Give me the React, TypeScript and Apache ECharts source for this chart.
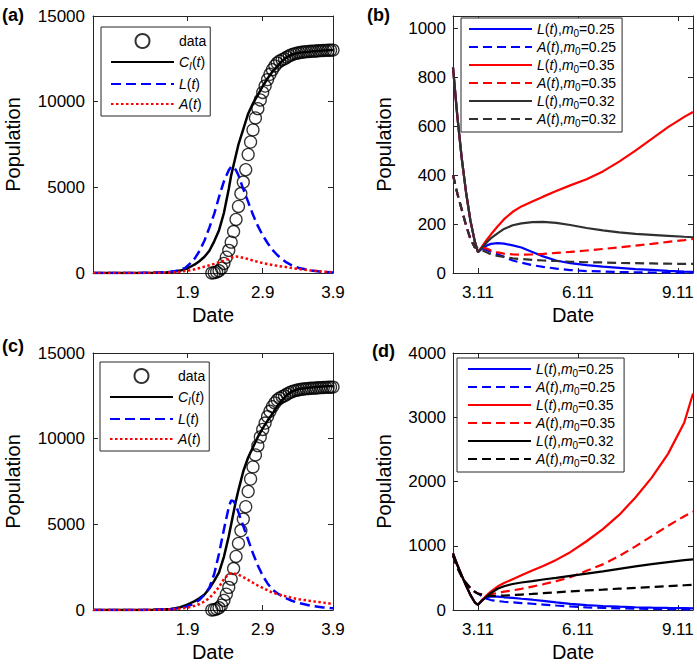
import React, { useEffect, useRef } from 'react';
import * as echarts from 'echarts';

// ---------- Panels (a) and (c): days counted from 1 Dec 2019 ----------
const acTickDays = [39, 70, 99];
const acTickLabels = ['1.9', '2.9', '3.9'];
const acYTicks = [0, 5000, 10000, 15000];

const dataDays = [49, 50, 51, 52, 53, 54, 55, 56, 57, 58, 59, 60, 61, 62, 63, 64, 65, 66, 67, 68, 69, 70, 71, 72, 73, 74, 75, 76, 77, 78, 79, 80, 81, 82, 83, 84, 85, 86, 87, 88, 89, 90, 91, 92, 93, 94, 95, 96, 97, 98, 99];
const dataCases = [5, 21, 65, 127, 281, 558, 923, 1321, 1801, 2420, 3125, 3886, 4638, 5306, 6028, 6916, 7646, 8353, 9049, 9593, 10098, 10540, 10910, 11287, 11598, 11865, 12086, 12251, 12366, 12447, 12503, 12600, 12680, 12740, 12790, 12830, 12860, 12880, 12900, 12920, 12930, 12940, 12950, 12960, 12970, 12980, 12990, 12995, 13000, 13005, 13010];

const modelDays = [0, 10, 20, 25, 30, 32, 34, 36, 38, 40, 42, 44, 46, 48, 50, 52, 54, 56, 57, 58, 59, 60, 62, 64, 66, 68, 70, 72, 74, 76, 78, 80, 82, 85, 90, 95, 99];
const aC = [0, 1, 6, 15, 35, 55, 90, 140, 220, 350, 500, 700, 950, 1300, 1850, 2500, 3500, 4900, 5700, 6300, 6900, 7500, 8400, 9300, 9900, 10400, 10900, 11350, 11750, 12060, 12380, 12600, 12750, 12850, 12930, 12980, 13010];
const aL = [0, 1, 8, 20, 50, 75, 120, 190, 300, 550, 850, 1300, 1900, 2650, 3450, 4450, 5350, 6000, 6200, 6200, 6000, 5700, 4900, 4150, 3400, 2750, 2200, 1750, 1350, 1050, 800, 600, 450, 290, 140, 65, 35];
const aA = [0, 1, 4, 10, 25, 35, 50, 75, 110, 160, 220, 290, 370, 450, 530, 620, 720, 830, 890, 940, 960, 950, 890, 810, 730, 650, 580, 520, 470, 420, 380, 340, 290, 230, 140, 80, 45];
const cC = [0, 1, 6, 15, 40, 60, 100, 160, 260, 380, 520, 700, 900, 1250, 1700, 2200, 3100, 4300, 5000, 5700, 6400, 7000, 8100, 8900, 9500, 10100, 10600, 11050, 11450, 11900, 12250, 12550, 12750, 12900, 12980, 13040, 13080];
const cL = [0, 1, 5, 12, 35, 50, 80, 120, 180, 270, 400, 600, 900, 1300, 2100, 3300, 4700, 6000, 6400, 6350, 6100, 5700, 4900, 4100, 3300, 2600, 2000, 1550, 1200, 980, 800, 660, 540, 400, 250, 150, 100];
const cA = [0, 1, 4, 10, 25, 35, 55, 80, 115, 170, 250, 350, 500, 700, 1000, 1350, 1800, 2100, 2140, 2130, 2100, 2060, 1920, 1760, 1590, 1430, 1290, 1150, 1020, 930, 850, 780, 710, 630, 520, 430, 350];

// ---------- Panels (b) and (d): days counted from 11 March ----------
const bdTickDays = [0, 92, 184];
const bdTickLabels = ['3.11', '6.11', '9.11'];
const bYTicks = [0, 200, 400, 600, 800, 1000];
const dYTicks = [0, 1000, 2000, 3000, 4000];

const histDays = [-23, -19, -15, -11, -7, -3, 0];
const postDays = [4, 8, 12, 18, 24, 32, 40, 50, 60, 72, 85, 100, 115, 130, 145, 160, 175, 190, 198];

const bHistL = [840, 640, 470, 330, 215, 130, 85];
const bHistA = [400, 325, 260, 195, 140, 105, 100];
const bBlueL = [100, 112, 119, 122, 120, 113, 104, 86, 68, 51, 40, 32, 26, 21, 16, 13, 9, 6, 5];
const bBlueA = [100, 94, 87, 77, 66, 51, 42, 32, 25, 18, 12, 8, 6, 4, 3, 2, 2, 1, 1];
const bRedL = [110, 135, 158, 190, 220, 250, 272, 292, 312, 335, 358, 383, 415, 455, 500, 548, 596, 638, 658];
const bRedA = [103, 100, 92, 84, 79, 76, 75, 76, 78, 82, 86, 92, 98, 105, 112, 119, 127, 134, 139];
const bBlackL = [105, 125, 142, 162, 180, 195, 203, 208, 209, 205, 196, 184, 174, 166, 160, 156, 152, 148, 146];
const bBlackA = [92, 85, 76, 70, 66, 60, 57, 54, 51, 49, 46, 44, 43, 41, 40, 39, 38, 37, 37];

const dHistL = [880, 700, 540, 380, 235, 120, 80];
const dHistA = [850, 660, 520, 420, 340, 285, 255];
const dBlueL = [160, 200, 210, 207, 198, 188, 175, 160, 142, 118, 95, 75, 62, 51, 43, 37, 32, 28, 26];
const dBlueA = [210, 175, 155, 140, 128, 118, 108, 97, 85, 70, 55, 40, 33, 26, 21, 17, 13, 11, 10];
const dRedL = [160, 230, 290, 365, 420, 480, 540, 615, 685, 780, 900, 1070, 1260, 1480, 1750, 2060, 2430, 2920, 3370];
const dRedA = [245, 240, 245, 265, 285, 305, 330, 365, 400, 450, 510, 610, 710, 840, 990, 1150, 1310, 1460, 1530];
const dBlackL = [150, 210, 265, 330, 370, 405, 428, 450, 475, 500, 530, 565, 600, 640, 680, 715, 745, 775, 789];
const dBlackA = [235, 225, 220, 220, 225, 232, 240, 250, 262, 275, 290, 305, 318, 332, 345, 358, 370, 385, 392];

const legendAC = ['data', 'C_I(t)', 'L(t)', 'A(t)'];
const legendBD = ['L(t),m0=0.25', 'A(t),m0=0.25', 'L(t),m0=0.35', 'A(t),m0=0.35', 'L(t),m0=0.32', 'A(t),m0=0.32'];

const FONT = '"Liberation Sans", Arial, Helvetica, sans-serif';
const AX = '#262626';

const zip = (xs: number[], ys: number[]) => xs.map((x, i) => [x, ys[i]]);
const bdDays = [...histDays, ...postDays];

const richLabel: Record<string, string> = {
  'data': 'data',
  'C_I(t)': '{i|C}{s|I}({i|t})',
  'L(t)': '{i|L}({i|t})',
  'A(t)': '{i|A}({i|t})',
};
const richFor = (name: string) => {
  const base = name.split('|')[1];
  if (richLabel[base]) return richLabel[base];
  const m = base.match(/^([LA])\(t\),m0=(.*)$/);
  if (m) return `{i|${m[1]}}({i|t}),{i|m}{n|0}=${m[2]}`;
  return base;
};

const grids = [
  { left: 93, top: 16, width: 240, height: 257 },
  { left: 453, top: 16, width: 240, height: 257 },
  { left: 93, top: 353, width: 240, height: 257 },
  { left: 453, top: 353, width: 240, height: 257 },
];

const lineAx = { show: true, onZero: false, lineStyle: { color: AX, width: 1 } };

function xMain(gi: number, min: number, max: number, ticks: number[], labels: string[]) {
  return {
    type: 'value', gridIndex: gi, min, max, position: 'bottom',
    axisLine: lineAx,
    axisTick: { show: true, inside: true, length: 5, customValues: ticks, lineStyle: { color: AX } },
    axisLabel: {
      show: true, customValues: ticks, margin: 11, fontSize: 17, color: '#000', fontFamily: FONT,
      formatter: (v: number) => { const k = ticks.indexOf(v); return k >= 0 ? labels[k] : ''; },
    },
    splitLine: { show: false },
    name: 'Date', nameLocation: 'middle', nameGap: 32,
    nameTextStyle: { fontSize: 20, color: '#000', fontFamily: FONT },
  };
}
function xTop(gi: number, min: number, max: number, ticks: number[]) {
  return {
    type: 'value', gridIndex: gi, min, max, position: 'top',
    axisLine: lineAx,
    axisTick: { show: true, inside: true, length: 5, customValues: ticks, lineStyle: { color: AX } },
    axisLabel: { show: false }, splitLine: { show: false },
  };
}
function yMain(gi: number, max: number, ticks: number[], gap: number, margin: number) {
  return {
    type: 'value', gridIndex: gi, min: 0, max, position: 'left',
    axisLine: lineAx,
    axisTick: { show: true, inside: true, length: 5, customValues: ticks, lineStyle: { color: AX } },
    axisLabel: {
      show: true, customValues: ticks, margin, fontSize: 17, color: '#000', fontFamily: FONT,
      formatter: (v: number) => String(v),
    },
    splitLine: { show: false },
    name: 'Population', nameLocation: 'middle', nameGap: gap,
    nameTextStyle: { fontSize: 20, color: '#000', fontFamily: FONT },
  };
}
function yRight(gi: number, max: number, ticks: number[]) {
  return {
    type: 'value', gridIndex: gi, min: 0, max, position: 'right',
    axisLine: lineAx,
    axisTick: { show: true, inside: true, length: 5, customValues: ticks, lineStyle: { color: AX } },
    axisLabel: { show: false }, splitLine: { show: false },
  };
}

function lineSeries(name: string, gi: number, data: number[][], color: string, type: any, width: number) {
  return {
    type: 'line', name, xAxisIndex: gi, yAxisIndex: gi, data, color,
    showSymbol: false, symbol: 'none', smooth: false, clip: true,
    lineStyle: { color, width, type, cap: 'butt' },
    itemStyle: { color, opacity: 0 },
    emphasis: { disabled: true },
  };
}

function acSeries(p: string, gi: number, C: number[], L: number[], A: number[]) {
  return [
    {
      type: 'scatter', name: `${p}|data`, xAxisIndex: gi, yAxisIndex: gi,
      data: zip(dataDays, dataCases), symbol: 'circle', symbolSize: 12,
      itemStyle: { color: 'rgba(0,0,0,0)', borderColor: '#000', borderWidth: 1.3 },
      emphasis: { disabled: true },
    },
    lineSeries(`${p}|C_I(t)`, gi, zip(modelDays, C), '#000000', 'solid', 2.5),
    lineSeries(`${p}|L(t)`, gi, zip(modelDays, L), '#0000ff', [10, 5], 2.5),
    lineSeries(`${p}|A(t)`, gi, zip(modelDays, A), '#ff0000', [2.5, 2.5], 2.5),
  ];
}

function bdSeries(p: string, gi: number, hL: number[], hA: number[], bl: number[][], black: string) {
  const colors = ['#0000ff', '#0000ff', '#ff0000', '#ff0000', black, black];
  return legendBD.map((n, k) => {
    const isL = k % 2 === 0;
    const vals = [...(isL ? hL : hA), ...bl[k]];
    return lineSeries(`${p}|${n}`, gi, zip(bdDays, vals), colors[k], isL ? 'solid' : [9, 5], 2.2);
  });
}

const legendText = {
  fontSize: 14, fontFamily: FONT, color: '#000',
  rich: {
    i: { fontSize: 14, fontStyle: 'italic', fontFamily: FONT, color: '#000' },
    s: { fontSize: 10, fontStyle: 'italic', fontFamily: FONT, color: '#000', padding: [8, 0, 0, 0] },
    n: { fontSize: 10, fontFamily: FONT, color: '#000', padding: [8, 0, 0, 0] },
  },
};

function legend(p: string, names: string[], left: number, top: number, padding: number[], gap: number) {
  return {
    show: true, orient: 'vertical', left, top, padding, itemGap: gap,
    itemWidth: 63, itemHeight: 14, selectedMode: false,
    backgroundColor: '#ffffff', borderColor: AX, borderWidth: 1,
    data: names.map((n) => (n === 'data'
      ? { name: `${p}|${n}` }
      : { name: `${p}|${n}`, itemStyle: { opacity: 0 } })),
    formatter: (name: string) => richFor(name),
    textStyle: legendText,
  };
}

const panelLabel = (text: string, left: number, top: number) => ({
  type: 'text', left, top,
  style: { text, font: `bold 18px ${FONT}`, fill: '#000' },
});

const option = {
  animation: false,
  backgroundColor: '#ffffff',
  grid: grids.map((g) => ({ ...g, containLabel: false, show: false })),
  xAxis: [
    xMain(0, 0, 99, acTickDays, acTickLabels),
    xMain(1, -23, 198, bdTickDays, bdTickLabels),
    xMain(2, 0, 99, acTickDays, acTickLabels),
    xMain(3, -23, 198, bdTickDays, bdTickLabels),
    xTop(0, 0, 99, acTickDays),
    xTop(1, -23, 198, bdTickDays),
    xTop(2, 0, 99, acTickDays),
    xTop(3, -23, 198, bdTickDays),
  ],
  yAxis: [
    yMain(0, 15000, acYTicks, 70, 8),
    yMain(1, 1050, bYTicks, 59, 7),
    yMain(2, 15000, acYTicks, 70, 8),
    yMain(3, 4000, dYTicks, 59, 7),
    yRight(0, 15000, acYTicks),
    yRight(1, 1050, bYTicks),
    yRight(2, 15000, acYTicks),
    yRight(3, 4000, dYTicks),
  ],
  legend: [
    legend('a', legendAC, 101, 27, [6, 4, 5, 9], 6),
    legend('b', legendBD, 461, 18, [4, 6, 4, 7], 2),
    legend('c', legendAC, 100, 362, [6, 4, 5, 9], 6),
    legend('d', legendBD, 457, 358, [4, 9, 4, 10], 2),
  ],
  graphic: [
    panelLabel('(a)', 2, 6),
    panelLabel('(b)', 367, 6),
    panelLabel('(c)', 2, 337),
    panelLabel('(d)', 372, 342),
  ],
  series: [
    ...acSeries('a', 0, aC, aL, aA),
    ...bdSeries('b', 1, bHistL, bHistA, [bBlueL, bBlueA, bRedL, bRedA, bBlackL, bBlackA], '#303030'),
    ...acSeries('c', 2, cC, cL, cA),
    ...bdSeries('d', 3, dHistL, dHistA, [dBlueL, dBlueA, dRedL, dRedA, dBlackL, dBlackA], '#000000'),
  ],
};

export default function App() {
  const ref = useRef<HTMLDivElement>(null);
  useEffect(() => {
    const chart = echarts.init(ref.current as HTMLDivElement, null, { renderer: 'svg' });
    chart.setOption(option as any);
    return () => chart.dispose();
  }, []);
  return (
    <div
      ref={ref}
      style={{ position: 'fixed', left: 0, top: 0, width: 697, height: 664, background: '#fff' }}
    />
  );
}
